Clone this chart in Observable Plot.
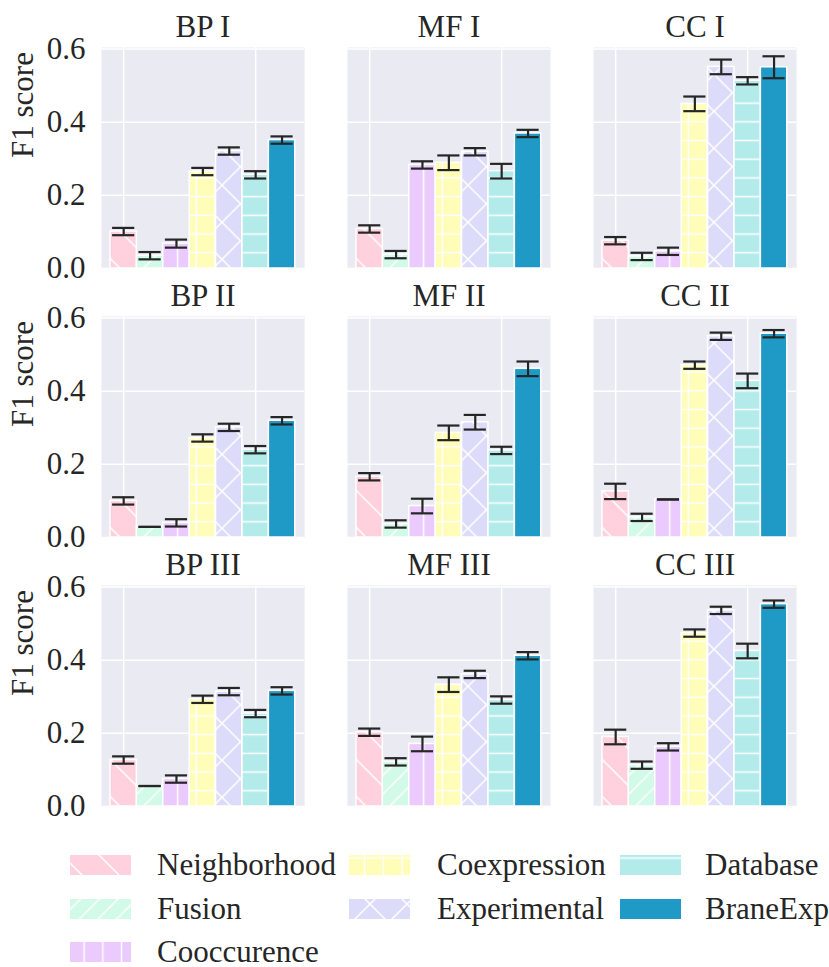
<!DOCTYPE html>
<html><head><meta charset="utf-8">
<script src="https://cdn.jsdelivr.net/npm/d3@7"></script>
<script src="https://cdn.jsdelivr.net/npm/@observablehq/plot@0.6"></script>
<style>
body{margin:0;background:#fff;font-family:"Liberation Serif","Times New Roman",serif;}
#wrap{position:relative;width:829px;height:967px;overflow:hidden;}
#wrap > svg, #wrap > figure{position:absolute;left:0;margin:0;}
</style></head><body><div id="wrap"></div>
<script>
const methods = ["Neighborhood","Fusion","Cooccurence","Coexpression","Experimental","Database","BraneExp"];
const colors = ["#FFD1DF","#D1FAE8","#EBCBFD","#FFFDB8","#DCDCFA","#B3EBEB","#1F9AC6"];
const hatches = ["\\","/","|","+","x","-",""];
const ontologies = ["BP","MF","CC"];
const levels = ["I","II","III"];
const yTicks = [0, 0.2, 0.4, 0.6];
const xGrid = [0, 5];

const mean_BP_I   = [0.101,0.035,0.068,0.265,0.321,0.256,0.351];
const err_BP_I    = [0.010,0.010,0.011,0.010,0.010,0.010,0.010];
const mean_MF_I   = [0.108,0.038,0.283,0.289,0.319,0.266,0.369];
const err_MF_I    = [0.010,0.010,0.010,0.020,0.010,0.020,0.010];
const mean_CC_I   = [0.076,0.033,0.047,0.450,0.551,0.513,0.550];
const err_CC_I    = [0.010,0.010,0.010,0.020,0.020,0.010,0.030];
const mean_BP_II  = [0.100,0.029,0.040,0.272,0.301,0.240,0.319];
const err_BP_II   = [0.010,0.000,0.010,0.010,0.010,0.010,0.010];
const mean_MF_II  = [0.166,0.037,0.086,0.286,0.315,0.238,0.461];
const err_MF_II   = [0.010,0.010,0.020,0.020,0.020,0.010,0.020];
const mean_CC_II  = [0.126,0.055,0.104,0.471,0.550,0.428,0.557];
const err_CC_II   = [0.021,0.010,0.000,0.010,0.010,0.020,0.010];
const mean_BP_III = [0.127,0.056,0.075,0.293,0.314,0.254,0.316];
const err_BP_III  = [0.010,0.000,0.010,0.010,0.010,0.010,0.010];
const mean_MF_III = [0.203,0.122,0.171,0.333,0.361,0.291,0.412];
const err_MF_III  = [0.010,0.010,0.020,0.020,0.010,0.010,0.010];
const mean_CC_III = [0.190,0.113,0.163,0.474,0.536,0.425,0.553];
const err_CC_III  = [0.020,0.010,0.010,0.010,0.010,0.020,0.010];

const panelData = {
  "BP I": [mean_BP_I, err_BP_I], "MF I": [mean_MF_I, err_MF_I], "CC I": [mean_CC_I, err_CC_I],
  "BP II": [mean_BP_II, err_BP_II], "MF II": [mean_MF_II, err_MF_II], "CC II": [mean_CC_II, err_CC_II],
  "BP III": [mean_BP_III, err_BP_III], "MF III": [mean_MF_III, err_MF_III], "CC III": [mean_CC_III, err_CC_III]
};

const rows = [];
const panels = [];
for (const l of levels) for (const o of ontologies) {
  const key = `${o} ${l}`;
  const [m, e] = panelData[key];
  panels.push({o, l, title: key});
  methods.forEach((method, i) => rows.push({o, l, i, method, mean: m[i], err: e[i]}));
}

// hatch patterns (matplotlib-like)
function patternDef(i) {
  const c = colors[i], h = hatches[i];
  let s = 18.7, d = "";
  const q = s / 2;
  switch (h) {
    case "\\": s = 37; d = `M0,0L37,37M-6,31L6,43M31,-6L43,6`; break;
    case "/": d = `M0,${s}L${s},0M-5,5L5,-5M${s-5},${s+5}L${s+5},${s-5}`; break;
    case "|": d = `M${q},0V${s}`; break;
    case "+": d = `M${q},0V${s}M0,${q}H${s}`; break;
    case "x": s = 37; d = `M0,0L37,37M-6,31L6,43M31,-6L43,6M0,37L37,0M-6,6L6,-6M31,43L43,31`; break;
    case "-": d = `M0,${q}H${s}`; break;
  }
  return `<pattern id="hatch${i}" patternUnits="userSpaceOnUse" width="${s}" height="${s}">` +
    `<rect width="${s}" height="${s}" fill="${c}"/>` +
    (d ? `<path d="${d}" stroke="white" stroke-width="1.5" fill="none"/>` : "") + `</pattern>`;
}

const wrap = document.getElementById("wrap");
const fontFamily = '"Liberation Serif","Times New Roman",Times,serif';
const fs = 31;
const ink = "#262626";

const plot = Plot.plot({
  width: 829,
  height: 830,
  marginLeft: 101, marginRight: 33, marginTop: 46.7, marginBottom: 23.3,
  style: {fontFamily, fontSize: fs + "px", color: ink, background: "transparent", overflow: "visible"},
  fx: {domain: ontologies, paddingInner: 0.175, paddingOuter: 0, axis: null},
  fy: {domain: levels, paddingInner: 0.178, paddingOuter: 0, axis: null},
  x: {domain: [-0.84, 6.85], axis: null},
  y: {domain: [0, 0.604], axis: null},
  marks: [
    Plot.frame({fill: "#EAEAF2", stroke: null}),
    Plot.ruleY(yTicks, {stroke: "white", strokeWidth: 1.5}),
    Plot.ruleX(xGrid, {stroke: "white", strokeWidth: 1.5}),
    ...methods.map((m, i) => Plot.rectY(rows.filter(r => r.i === i), {
      x1: d => d.i - 0.5, x2: d => d.i + 0.5, y: "mean", fx: "o", fy: "l",
      fill: `url(#hatch${i})`, stroke: "white", strokeWidth: 1.5
    })),
    Plot.ruleX(rows, {x: "i", y1: d => d.mean - d.err, y2: d => d.mean + d.err, fx: "o", fy: "l", stroke: "#262626", strokeWidth: 2.2}),
    Plot.ruleY(rows, {y: d => d.mean - d.err, x1: d => d.i - 0.42, x2: d => d.i + 0.42, fx: "o", fy: "l", stroke: "#262626", strokeWidth: 2.2}),
    Plot.ruleY(rows, {y: d => d.mean + d.err, x1: d => d.i - 0.42, x2: d => d.i + 0.42, fx: "o", fy: "l", stroke: "#262626", strokeWidth: 2.2}),
    Plot.axisY({ticks: yTicks, tickFormat: d3.format(".1f"), tickSize: 0, tickPadding: 16, fontSize: fs, label: null, facetAnchor: "left"}),
    Plot.text(panels, {fx: "o", fy: "l", text: "title", frameAnchor: "top", lineAnchor: "bottom", dy: -10.5, fontSize: fs, fill: ink}),
    Plot.text(levels.map(l => ({o: "BP", l})), {fx: "o", fy: "l", text: () => "F1 score", frameAnchor: "left", rotate: -90, dx: -78, fontSize: fs, fill: ink})
  ]
});
plot.style.position = "absolute";
plot.style.top = "0px";
plot.style.left = "0px";
wrap.appendChild(plot);

// legend (below the chart)
const leg = d3.select(wrap).append("svg")
  .attr("width", 829).attr("height", 137)
  .style("position", "absolute").style("top", "830px").style("left", "0px");
leg.append("defs").html(methods.map((m, i) => patternDef(i)).join(""));
const legPos = [
  [70, 25, 157], [70, 69, 157], [70, 112, 157],
  [349, 25, 437], [349, 69, 437],
  [620, 25, 705], [620, 69, 705]
];
methods.forEach((m, i) => {
  const [px, py, tx] = legPos[i];
  leg.append("rect").attr("x", px).attr("y", py).attr("width", 61).attr("height", 20).attr("fill", `url(#hatch${i})`);
  leg.append("text").attr("x", tx).attr("y", py + 10).attr("dy", "0.33em")
    .attr("font-family", fontFamily).attr("font-size", fs).attr("fill", ink).text(m);
});
</script></body></html>
